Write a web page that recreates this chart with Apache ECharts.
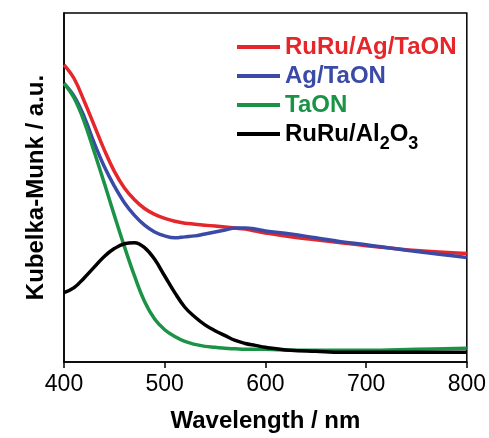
<!DOCTYPE html>
<html><head><meta charset="utf-8">
<script src="https://cdn.jsdelivr.net/npm/echarts@6/dist/echarts.min.js"></script>
<style>html,body{margin:0;padding:0;background:#fff}#c{width:489px;height:438px}</style>
</head><body><div id="c"></div>
<script>
const wavelength = [400,410,420,430,440,450,460,470,480,490,500,510,520,530,540,550,560,570,580,590,600,625,650,675,700,750,800];
const ruruAgTaON = [304,290,267,242,217,195,178,166,157,151,147,144,142,141,140,139,138,137,136,134,132,128,125,122,119,114,111];
const agTaON     = [285,272,251,224,200,180,163,150,140,133,129,127,128,129,131,133,135,137,137,136,134,131,127,123,120,113,107];
const taON       = [285,270,246,215,183,150,118,88,62,44,33,26,21,18,16,15,14,13.5,13,13,13,12,12,12,12,13,14];
const ruruAl2O3  = [71,76,86,97,108,116,121,122,117,105,88,71,56,46,38,32,27,22,19,17,15,12,11,10,10,10,10];
const seriesNames = ['RuRu/Ag/TaON','Ag/TaON','TaON','RuRu/Al2O3'];
const xTicks = [400,500,600,700,800];

const colors = ['#e5262b','#3b4aa6','#1b9346','#000000'];
const seriesValues = [ruruAgTaON, agTaON, taON, ruruAl2O3];
const FONT = 'Liberation Sans';

const chart = echarts.init(document.getElementById('c'));
chart.setOption({
  animation: false,
  backgroundColor: '#fff',
  grid: {left: 64, right: 21, top: 13, bottom: 68, show: true, borderColor: '#000', borderWidth: 1.5, backgroundColor: 'transparent'},
  legend: {
    orient: 'vertical', left: 232, top: 30, itemWidth: 43, itemHeight: 4, itemGap: 5, icon: 'rect',
    selectedMode: false,
    textStyle: {fontFamily: FONT, fontSize: 24, fontWeight: 'bold',
      rich: {
        k: {fontFamily: FONT, fontSize: 24, fontWeight: 'bold', color: '#000', verticalAlign: 'middle'},
        s: {fontFamily: FONT, fontSize: 18, fontWeight: 'bold', color: '#000', verticalAlign: 'top', padding: [20,0,0,0]}
      }},
    formatter: function (name) {
      if (name === 'RuRu/Al2O3') return '{k|RuRu/Al}{s|2}{k|O}{s|3}';
      return name;
    },
    data: seriesNames.map((n, i) => ({name: n, textStyle: {color: colors[i]}}))
  },
  xAxis: {
    type: 'value', min: 400, max: 800, interval: 100,
    name: 'Wavelength / nm', nameLocation: 'middle', nameGap: 47,
    nameTextStyle: {fontFamily: FONT, fontSize: 24, fontWeight: 'bold', color: '#000'},
    axisLine: {show: true, lineStyle: {color: '#000', width: 1.5}},
    axisTick: {show: true, inside: false, length: 6, lineStyle: {color: '#000', width: 1.5}},
    axisLabel: {fontFamily: FONT, fontSize: 23, color: '#000', margin: 11,
      formatter: v => xTicks.includes(v) ? String(v) : ''},
    splitLine: {show: false}
  },
  yAxis: {
    type: 'value', min: 0, max: 357,
    name: 'Kubelka-Munk / a.u.', nameLocation: 'middle', nameGap: 16,
    nameTextStyle: {fontFamily: FONT, fontSize: 24, fontWeight: 'bold', color: '#000'},
    axisLine: {show: true, lineStyle: {color: '#000', width: 1.5}},
    axisTick: {show: false}, axisLabel: {show: false}, splitLine: {show: false}
  },
  series: seriesNames.map((n, i) => ({
    name: n, type: 'line', smooth: 0.4, showSymbol: false, symbol: 'none',
    data: wavelength.map((w, j) => [w, seriesValues[i][j]]),
    lineStyle: {color: colors[i], width: 3.5},
    itemStyle: {color: colors[i]}
  }))
});
</script></body></html>
